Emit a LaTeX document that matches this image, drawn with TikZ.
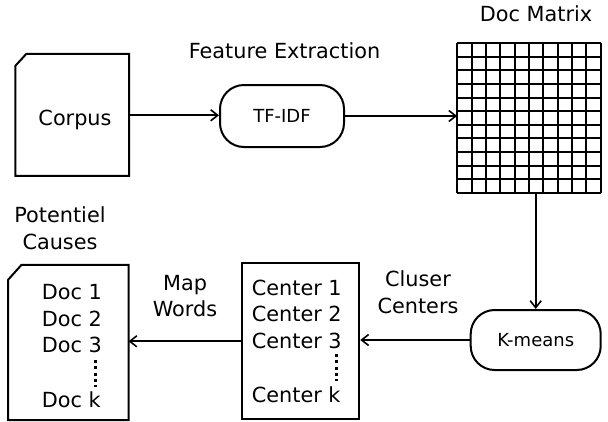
\documentclass[tikz,border=0pt]{standalone}
\usepackage{fontspec}
\setmainfont{DejaVu Sans}
\usetikzlibrary{arrows.meta}
\begin{document}
\begin{tikzpicture}[x=1pt,y=-1pt,
  txt/.style={font=\fontsize{20.8}{26.6}\selectfont, inner sep=0pt, anchor=base},
  ltxt/.style={txt, anchor=base west},
  proc/.style={draw, line width=2pt, rounded corners=24pt, inner sep=0pt,
               font=\fontsize{18}{22}\selectfont},
  boxline/.style={line width=2pt, line join=miter},
  gridline/.style={line width=2pt},
  link/.style={line width=1.9pt, -{Straight Barb[length=7pt,width=11pt,line width=1.6pt]}},
  vdots/.style={line width=3pt, dash pattern=on 3pt off 3.3pt}
]
\useasboundingbox (0,0) rectangle (608,421);

% Corpus
\node[inner sep=0pt, minimum width=113.3pt, minimum height=121.7pt] (corpus) at (72.3,114.8) {};
\draw[boxline] (corpus.south west) -- ([yshift=-12pt]corpus.north west)
  -- ([xshift=11pt]corpus.north west) -- (corpus.north east)
  -- (corpus.south east) -- cycle;
\node[txt] (corpustxt) at (75,125) {Corpus};

% TF-IDF
\node[proc, minimum width=124pt, minimum height=62pt] (tfidf) at (282,116) {TF-IDF};
\node[txt] (feat) at (284.5,58.5) {Feature Extraction};

% Doc matrix
\node[inner sep=0pt, minimum width=143.2pt, minimum height=149.4pt] (matrix) at (528.9,118) {};
\foreach \i in {0,...,10}
  \draw[gridline] (457.3+14.32*\i,43.3) -- ++(0,149.4);
\foreach \j in {0,...,11}
  \draw[gridline] (457.3,43.3+13.582*\j) -- ++(143.2,0);
\node[txt] (doclabel) at (536,21.5) {Doc Matrix};

% K-means
\node[proc, minimum width=130pt, minimum height=60pt] (kmeans) at (535.7,340) {K-means};

% Centers
\node[draw, boxline, inner sep=0pt, minimum width=117pt, minimum height=156pt] (centers) at (300.8,341.3) {};
\node[ltxt] (c1) at (251.7,295) {Center 1};
\node[ltxt] (c2) at (251.7,321.5) {Center 2};
\node[ltxt] (c3) at (251.7,348) {Center 3};
\node[ltxt] (ck) at (251.7,402) {Center k};
\draw[vdots] (336.7,354) -- (336.7,381);
\node[txt] (clus1) at (418,286.5) {Cluser};
\node[txt] (clus2) at (418,313) {Centers};

% Potentiel causes
\node[inner sep=0pt, minimum width=120pt, minimum height=155pt] (causes) at (68.3,342.5) {};
\draw[boxline] (causes.south west) -- ([yshift=-15pt]causes.north west)
  -- ([xshift=13.4pt]causes.north west) -- (causes.north east)
  -- (causes.south east) -- cycle;
\node[ltxt] (d1) at (41.7,299.5) {Doc 1};
\node[ltxt] (d2) at (41.7,326) {Doc 2};
\node[ltxt] (d3) at (41.7,352.5) {Doc 3};
\node[ltxt] (dk) at (41.7,407) {Doc k};
\draw[vdots] (95.7,360) -- (95.7,387);
\node[txt] (pot1) at (60,222.3) {Potentiel};
\node[txt] (pot2) at (60,249) {Causes};
\node[txt] (map1) at (185,290) {Map};
\node[txt] (map2) at (185,316) {Words};

% Connectors
\draw[link] (corpus.east) ++(0,0.5) coordinate (ce) (ce) -- (ce -| tfidf.west);
\draw[link] (tfidf.east) -- (tfidf.east -| matrix.west);
\draw[link] (kmeans.north |- matrix.south) -- (kmeans.north);
\draw[link] (kmeans.west) -- (kmeans.west -| centers.east);
\draw[link] (centers.west) -- (centers.west -| causes.east);
\end{tikzpicture}
\end{document}
